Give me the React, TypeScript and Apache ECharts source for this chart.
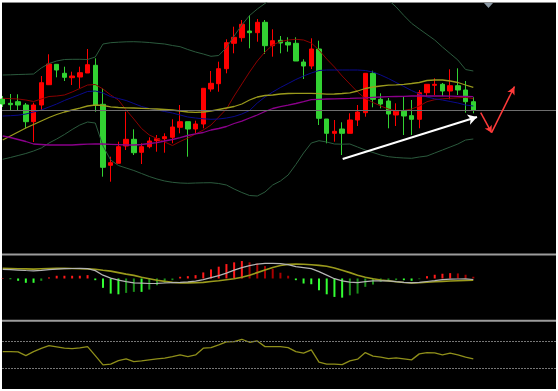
import React, { useEffect, useRef } from "react";
import * as echarts from "echarts";

// ---- Price candles (index = bar number) ----
const openPrices = [1.3154,1.31497,1.31513,1.3148,1.31313,1.3148,1.31683,1.31887,1.31797,1.31753,1.3176,1.318,1.31877,1.31487,1.30877,1.30897,1.3107,1.31137,1.31007,1.31063,1.31123,1.31143,1.31157,1.31257,1.31313,1.3124,1.3129,1.3164,1.31693,1.31843,1.32097,1.32153,1.3222,1.32203,1.32307,1.32073,1.32127,1.32107,1.32097,1.3191,1.3187,1.3204,1.3134,1.31197,1.3124,1.31197,1.3133,1.31403,1.31797,1.31537,1.3152,1.3138,1.31423,1.31373,1.31337,1.31603,1.31677,1.31687,1.3162,1.31673,1.3163,1.31513];
const closePrices = [1.3149,1.31483,1.3148,1.31313,1.3148,1.31703,1.3189,1.3183,1.31757,1.3177,1.31803,1.31883,1.3148,1.30857,1.30903,1.31063,1.31137,1.31003,1.31063,1.3112,1.31143,1.31163,1.3126,1.31313,1.3124,1.3129,1.31647,1.31697,1.31843,1.32103,1.32157,1.32287,1.32203,1.32307,1.32073,1.32123,1.321,1.3208,1.3192,1.3187,1.3204,1.31347,1.31197,1.31217,1.31197,1.3133,1.3141,1.31797,1.31537,1.3149,1.3139,1.31423,1.3137,1.31337,1.31603,1.31687,1.31687,1.3162,1.31673,1.3163,1.31513,1.3143];
const lowPrices = [1.3146,1.3143,1.3143,1.31247,1.3111,1.3143,1.3168,1.31757,1.3172,1.3168,1.31647,1.318,1.31413,1.30763,1.30713,1.30897,1.3103,1.3098,1.3089,1.31047,1.31013,1.31003,1.31097,1.31197,1.30963,1.31197,1.31247,1.31613,1.31613,1.31797,1.31997,1.32113,1.32047,1.32113,1.3199,1.31963,1.31997,1.32013,1.3192,1.3174,1.3184,1.3128,1.31097,1.31113,1.3098,1.31197,1.3127,1.31363,1.31457,1.31447,1.31247,1.3127,1.3118,1.3118,1.31247,1.31563,1.3158,1.3157,1.31537,1.3158,1.31403,1.31397];
const highPrices = [1.3157,1.3159,1.31587,1.315,1.31503,1.3177,1.31987,1.3189,1.31863,1.31813,1.31863,1.3204,1.31947,1.31647,1.30963,1.31113,1.31413,1.31237,1.31097,1.31157,1.3118,1.31197,1.31337,1.3148,1.31313,1.31323,1.31647,1.3182,1.31913,1.32137,1.32263,1.3233,1.3238,1.3234,1.3233,1.32237,1.3217,1.32157,1.32157,1.31937,1.32147,1.32123,1.3134,1.3133,1.31307,1.31397,1.3148,1.31797,1.31823,1.31597,1.3155,1.31497,1.31563,1.3153,1.3163,1.31687,1.31747,1.317,1.31837,1.31847,1.3172,1.31557];

// ---- Overlays ----
const upperBand = [1.3178,1.31782,1.31785,1.31787,1.3179,1.3185,1.31895,1.3192,1.31935,1.31937,1.31937,1.31935,1.3196,1.3209,1.32103,1.32108,1.32112,1.32113,1.3211,1.32105,1.32097,1.3209,1.32075,1.32063,1.32035,1.3201,1.3199,1.31967,1.31975,1.32055,1.3217,1.3228,1.32375,1.3244,1.32495,1.3255,1.3259,1.3262,1.3265,1.3267,1.3268,1.3267,1.3265,1.3265,1.3264,1.3263,1.3262,1.326,1.3257,1.32545,1.3253,1.3246,1.32375,1.32297,1.3224,1.32185,1.3213,1.3206,1.31995,1.3193,1.31835,1.3182];
const lowerBand = [1.30937,1.30955,1.30975,1.30995,1.3102,1.3105,1.311,1.3114,1.31185,1.31235,1.3128,1.3131,1.313,1.3107,1.3093,1.30875,1.3085,1.30825,1.30795,1.30765,1.3074,1.3072,1.30707,1.307,1.30697,1.307,1.30702,1.30703,1.30695,1.3068,1.3064,1.30605,1.30575,1.3057,1.3061,1.3068,1.3072,1.3078,1.30885,1.31,1.311,1.31123,1.3111,1.3109,1.31088,1.3109,1.3106,1.3103,1.31005,1.3098,1.30963,1.30955,1.3095,1.30947,1.3096,1.3097,1.31,1.3103,1.3106,1.3109,1.3113,1.3114];
const fastMA = [1.31547,1.31544,1.3154,1.3153,1.31515,1.3154,1.31565,1.3157,1.3158,1.3161,1.31645,1.3168,1.31685,1.3164,1.3158,1.3153,1.3143,1.3134,1.31245,1.3118,1.31145,1.3111,1.31075,1.31115,1.3115,1.3119,1.3123,1.3128,1.3136,1.3144,1.3157,1.3169,1.3181,1.3192,1.3201,1.3208,1.32115,1.3213,1.32137,1.3213,1.321,1.3203,1.3194,1.3186,1.3177,1.3169,1.3161,1.31545,1.31505,1.3147,1.3144,1.3142,1.31425,1.3144,1.3147,1.31513,1.31533,1.31542,1.31547,1.31552,1.31557,1.31543];
const blueMA = [1.3137,1.31373,1.31378,1.3139,1.3141,1.3143,1.3146,1.3149,1.31525,1.31555,1.31585,1.31615,1.3162,1.316,1.31563,1.31545,1.31525,1.31495,1.31465,1.31445,1.3143,1.31415,1.314,1.3138,1.3136,1.3135,1.31342,1.31337,1.3134,1.3135,1.31365,1.3139,1.31425,1.315,1.3156,1.3161,1.31655,1.31695,1.31735,1.3177,1.318,1.31825,1.3183,1.3183,1.3183,1.3183,1.3183,1.31825,1.3181,1.3178,1.31745,1.31705,1.31665,1.31625,1.3159,1.3156,1.31542,1.3153,1.31515,1.315,1.3148,1.3147];
const oliveMA = [1.3113,1.3117,1.3121,1.3125,1.31285,1.3132,1.31355,1.31385,1.3141,1.3143,1.31448,1.3147,1.3148,1.31475,1.31462,1.31455,1.31452,1.3145,1.31447,1.31443,1.3144,1.31435,1.3143,1.3142,1.3141,1.31407,1.3141,1.3142,1.31435,1.3145,1.31465,1.3149,1.3153,1.3156,1.31575,1.3158,1.3159,1.31595,1.31597,1.31597,1.31597,1.31593,1.31588,1.3159,1.31595,1.31602,1.3162,1.31645,1.3166,1.3167,1.31678,1.31682,1.31687,1.31695,1.31705,1.31725,1.3173,1.3173,1.3172,1.31705,1.3168,1.31657];
const purpleMA = [1.3117,1.31155,1.31135,1.31115,1.3109,1.31085,1.3108,1.3108,1.3108,1.3108,1.31085,1.31088,1.3109,1.3109,1.31087,1.31084,1.3108,1.3108,1.31085,1.31095,1.31103,1.3112,1.31135,1.31153,1.31175,1.31192,1.31205,1.3123,1.31245,1.31265,1.31295,1.31318,1.3135,1.3138,1.31415,1.31445,1.31463,1.31478,1.31495,1.31513,1.31533,1.31537,1.3154,1.31542,1.31544,1.31546,1.31549,1.31552,1.31556,1.3156,1.31563,1.31565,1.31567,1.3157,1.3157,1.3157,1.3157,1.3157,1.31568,1.31566,1.31565,1.31563];

// ---- MACD panel (pips) ----
const macdMain = [0.9,0.87,0.83,0.79,0.76,0.81,0.88,0.93,0.97,0.99,1.0,0.97,0.78,0.33,0.03,-0.17,-0.32,-0.44,-0.47,-0.5,-0.49,-0.45,-0.42,-0.39,-0.34,-0.27,-0.12,0.08,0.28,0.53,0.83,1.08,1.28,1.43,1.49,1.5,1.48,1.38,1.18,1.08,0.98,0.68,0.33,-0.02,-0.24,-0.37,-0.42,-0.32,-0.24,-0.24,-0.24,-0.32,-0.39,-0.44,-0.39,-0.3,-0.22,-0.12,-0.07,-0.05,-0.04,-0.1];
const macdSignal = [1.0,0.98,0.96,0.95,0.93,0.96,0.99,1.0,1.0,0.99,0.97,0.95,0.91,0.81,0.73,0.58,0.43,0.31,0.13,-0.02,-0.17,-0.29,-0.39,-0.44,-0.44,-0.42,-0.39,-0.3,-0.22,-0.12,-0.02,0.13,0.33,0.58,0.83,1.08,1.28,1.4,1.43,1.41,1.36,1.3,1.21,1.03,0.81,0.58,0.33,0.13,-0.02,-0.15,-0.24,-0.33,-0.4,-0.44,-0.42,-0.37,-0.33,-0.29,-0.25,-0.22,-0.19,-0.17];
const macdHist = [0.05,-0.07,-0.23,-0.43,-0.43,-0.23,0.1,0.27,0.27,0.27,0.27,0.33,-0.17,-0.93,-1.5,-1.57,-1.43,-1.33,-1.33,-1.1,-0.67,-0.43,-0.17,0.17,0.23,0.33,0.6,0.9,1.17,1.43,1.6,1.73,1.6,1.5,1.23,0.95,0.57,0.27,-0.17,-0.5,-0.57,-1.17,-1.57,-1.83,-1.9,-1.67,-1.5,-0.83,-0.6,-0.33,-0.23,-0.17,-0.17,-0.23,-0.07,0.23,0.37,0.47,0.53,0.5,0.37,0.17];

// ---- RSI panel ----
const rsiValues = [54.8,54.7,54.4,49.0,54.8,59.5,63.6,61.7,59.8,59.2,60.2,62.1,49,35.4,36.4,41.7,44.2,40.2,41.2,42.7,44.2,45.2,47.5,50,47.5,50,59.8,60.7,64.6,69,69.4,72.9,68.5,70.4,62.1,62.1,62.1,60.7,54.8,52.5,57.3,39.3,36.4,36.4,35.8,41.2,43.7,53.4,48.1,46.6,44.6,45.6,44.2,42.7,51.5,53.4,52.9,50,52.5,50,46.6,44.2];
const rsiLevels = [70, 30];

// ---- Drawn annotations ([bar, price]) ----
const trendArrow = [[44.07, 1.3094], [61.48, 1.3136]];
const forecastPath = [[61.96, 1.31403], [63.37, 1.31203], [66.34, 1.31665]];

const X_MIN = -0.09;
const X_MAX = 71.72;

const toXY = (arr: number[]) => arr.map((v, i) => [i, v]);

export default function App() {
  const ref = useRef<HTMLDivElement>(null);

  useEffect(() => {
    const chart = echarts.init(ref.current!, null, { renderer: "svg" });
    const lastClose = closePrices[closePrices.length - 1];
    const candleData = openPrices.map((o, i) => [i, o, closePrices[i], lowPrices[i], highPrices[i]]);

    const xAxisBase = { type: "value", min: X_MIN, max: X_MAX, show: false, splitLine: { show: false } };
    const lineSeries = (name: string, data: number[], color: string, width = 1, extra: any = {}) => ({
      name,
      type: "line",
      xAxisIndex: 0,
      yAxisIndex: 0,
      data: toXY(data),
      symbol: "none",
      lineStyle: { color, width },
      silent: true,
      z: 3,
      ...extra,
    });

    const whiteStyle = { color: "#ffffff", width: 2, type: "solid" };
    const redStyle = { color: "#ff3a3a", width: 1.5, type: "solid" };
    const arrowLines: any[] = [
      [
        { coord: trendArrow[0], symbol: "none", lineStyle: whiteStyle },
        { coord: trendArrow[1], symbol: "arrow", symbolSize: [8, 9] },
      ],
      [
        { coord: forecastPath[0], symbol: "none", lineStyle: redStyle },
        { coord: forecastPath[1], symbol: "arrow", symbolSize: [6, 7] },
      ],
      [
        { coord: forecastPath[1], symbol: "none", lineStyle: redStyle },
        { coord: forecastPath[2], symbol: "arrow", symbolSize: [6, 8] },
      ],
    ];

    const option: any = {
      animation: false,
      backgroundColor: "transparent",
      grid: [
        { left: 2, right: 2, top: 3, height: 250 },
        { left: 2, right: 2, top: 256, height: 63.5 },
        { left: 2, right: 2, top: 322, height: 67 },
      ],
      xAxis: [
        { ...xAxisBase, gridIndex: 0 },
        { ...xAxisBase, gridIndex: 1 },
        { ...xAxisBase, gridIndex: 2 },
      ],
      yAxis: [
        { type: "value", gridIndex: 0, min: 1.3, max: 1.325, show: false, splitLine: { show: false } },
        { type: "value", gridIndex: 1, min: -4.07, max: 2.23, show: false, splitLine: { show: false } },
        { type: "value", gridIndex: 2, min: 0, max: 98.2, show: false, splitLine: { show: false } },
      ],
      graphic: [
        { type: "rect", shape: { x: 2, y: 2, width: 554, height: 1 }, style: { fill: "#8a8a8a" }, silent: true },
        { type: "rect", shape: { x: 2, y: 253.5, width: 554, height: 2 }, style: { fill: "#9c9c9c" }, silent: true },
        { type: "rect", shape: { x: 2, y: 319.7, width: 554, height: 2 }, style: { fill: "#9c9c9c" }, silent: true },
        {
          type: "polygon",
          shape: { points: [[484, 3], [493, 3], [488.5, 8]] },
          style: { fill: "#8a97a3" },
          silent: true,
        },
      ],
      series: [
        {
          name: "Price",
          type: "candlestick",
          xAxisIndex: 0,
          yAxisIndex: 0,
          data: candleData,
          encode: { x: 0, y: [1, 2, 3, 4] },
          barWidth: 5,
          itemStyle: {
            color: "#ff0000",
            color0: "#32d232",
            borderColor: "#ff0000",
            borderColor0: "#32d232",
            borderWidth: 1,
          },
          z: 2,
        },
        lineSeries("Upper Band", upperBand, "#2b5a3d"),
        lineSeries("Lower Band", lowerBand, "#2b5a3d"),
        lineSeries("MA Fast", fastMA, "#8b0000", 1, {
          markLine: {
            silent: true,
            symbol: "none",
            precision: 6,
            label: { show: false },
            lineStyle: { color: "#6e6e6e", width: 1, type: "solid" },
            data: [[{ coord: [X_MIN, lastClose] }, { coord: [X_MAX, lastClose] }]],
          },
        }),
        lineSeries("MA Blue", blueMA, "#0a0a8c"),
        lineSeries("MA Olive", oliveMA, "#9a9a1c", 1.3),
        lineSeries("MA Purple", purpleMA, "#8b008b", 1.3, {
          markLine: {
            silent: true,
            precision: 6,
            label: { show: false },
            lineStyle: { type: "solid" },
            data: arrowLines,
          },
        }),
        {
          name: "MACD Hist",
          type: "bar",
          xAxisIndex: 1,
          yAxisIndex: 1,
          data: toXY(macdHist),
          barWidth: 2,
          itemStyle: {
            color: (p: any) => {
              const i = p.dataIndex;
              const v = macdHist[i];
              const prev = i > 0 ? macdHist[i - 1] : 0;
              if (v >= 0) return v >= prev ? "#ff1a1a" : "#a80000";
              return v <= prev ? "#33ff33" : "#1a8f1a";
            },
          },
          silent: true,
        },
        {
          name: "MACD",
          type: "line",
          xAxisIndex: 1,
          yAxisIndex: 1,
          data: toXY(macdMain),
          symbol: "none",
          lineStyle: { color: "#b4b4b4", width: 1.2 },
          silent: true,
          z: 4,
        },
        {
          name: "Signal",
          type: "line",
          xAxisIndex: 1,
          yAxisIndex: 1,
          data: toXY(macdSignal),
          symbol: "none",
          lineStyle: { color: "#9a9a1c", width: 1.6 },
          silent: true,
          z: 3,
        },
        {
          name: "RSI",
          type: "line",
          xAxisIndex: 2,
          yAxisIndex: 2,
          data: toXY(rsiValues),
          symbol: "none",
          lineStyle: { color: "#8f8f1a", width: 1.3 },
          silent: true,
          markLine: {
            silent: true,
            symbol: "none",
            label: { show: false },
            lineStyle: { color: "#767676", width: 1, type: [2, 1] },
            data: rsiLevels.map((v) => ({ yAxis: v })),
          },
        },
      ],
    };

    chart.setOption(option);
    return () => chart.dispose();
  }, []);

  return (
    <div style={{ position: "fixed", left: 0, top: 0, width: 558, height: 391, background: "#ffffff" }}>
      <div style={{ position: "absolute", left: 2, top: 2, width: 554, height: 387, background: "#000000" }} />
      <div ref={ref} style={{ position: "absolute", left: 0, top: 0, width: 558, height: 391 }} />
    </div>
  );
}
